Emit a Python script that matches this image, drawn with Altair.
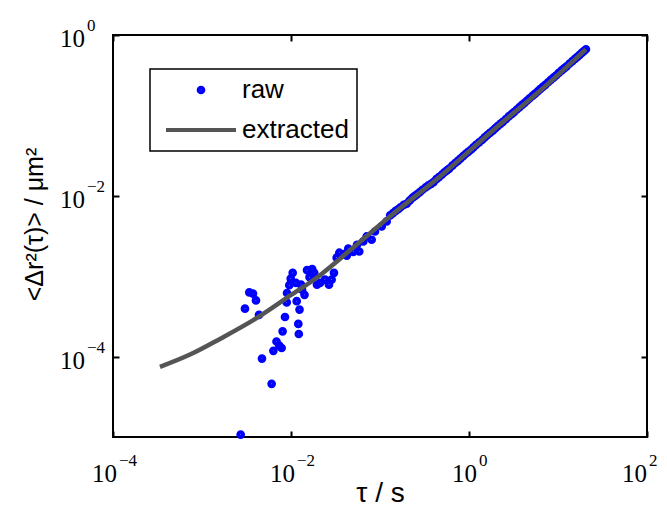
import altair as alt
import pandas as pd

# ---------------- data ----------------
raw_tau = [2.72e-3, 3.04e-3, 3.40e-3, 3.74e-3, 4.04e-3, 4.37e-3, 4.72e-3, 6.06e-3,
           6.34e-3, 6.87e-3, 7.38e-3, 7.85e-3, 8.05e-3, 8.56e-3, 8.95e-3, 9.02e-3,
           9.57e-3, 9.93e-3, 1.045e-2, 1.138e-2, 1.159e-2, 1.208e-2, 1.224e-2, 1.247e-2,
           1.295e-2, 1.33e-2, 1.418e-2, 1.514e-2, 1.615e-2, 1.73e-2, 1.823e-2, 1.958e-2,
           2.12e-2, 2.41e-2, 2.67e-2, 2.86e-2, 3.04e-2, 3.26e-2, 3.49e-2, 3.89e-2,
           4.23e-2, 4.40e-2, 5.01e-2, 5.52e-2, 5.85e-2, 6.49e-2, 7.08e-2, 8.06e-2,
           8.79e-2, 0.1045, 0.1189,
           0.13, 0.14, 0.15, 0.16, 0.17, 0.185, 0.20, 0.215, 0.23, 0.245, 0.26, 0.28,
           0.30, 0.325, 0.35, 0.375, 0.40, 0.43, 0.46, 0.495, 0.53, 0.565, 0.60, 0.65,
           0.70, 0.75, 0.80, 0.86, 0.92, 0.98, 1.05, 1.12, 1.2, 1.3, 1.4, 1.5, 1.6,
           1.72, 1.85, 1.97, 2.1, 2.25, 2.4, 2.6, 2.8, 3.0, 3.2, 3.45, 3.7, 3.95, 4.2,
           4.5, 4.8, 5.15, 5.5, 5.9, 6.3, 6.75, 7.2, 7.75, 8.3, 8.9, 9.5, 10.2, 11.0,
           11.7, 12.5, 13.5, 14.5, 15.5, 16.5, 17.5, 18.5, 19.5, 20.6]
raw_msd = [1.07e-5, 3.95e-4, 6.29e-4, 6.06e-4, 5.0e-4, 3.30e-4, 9.45e-5, 4.58e-5,
           1.18e-4, 1.54e-4, 1.37e-4, 1.28e-4, 2.06e-4, 3.11e-4, 4.72e-4, 6.18e-4,
           7.73e-4, 9.31e-4, 1.10e-3, 8.24e-4, 4.89e-4, 2.55e-4, 1.91e-4, 3.84e-4,
           7.84e-4, 6.79e-4, 5.86e-4, 1.19e-3, 9.72e-4, 1.23e-3, 1.10e-3, 7.84e-4,
           8.24e-4, 9.05e-4, 7.84e-4, 9.05e-4, 1.10e-3, 1.70e-3, 1.96e-3, 1.88e-3,
           1.80e-3, 2.20e-3, 2.01e-3, 2.46e-3, 2.03e-3, 2.71e-3, 3.12e-3, 2.84e-3,
           3.60e-3, 4.16e-3, 4.80e-3,
           0.0057, 0.0061, 0.0065, 0.0068, 0.0072, 0.0077, 0.0080, 0.0087, 0.0094,
           0.0099, 0.0104, 0.0111, 0.0119, 0.0127, 0.0135, 0.0141, 0.0148, 0.0161,
           0.0171, 0.0183, 0.0196, 0.0207, 0.0218, 0.0237, 0.0256, 0.0272, 0.0290,
           0.0312, 0.0333, 0.0352, 0.0374, 0.0401, 0.0430, 0.0462, 0.0494, 0.0532,
           0.0567, 0.0605, 0.0646, 0.0690, 0.0737, 0.0786, 0.0832, 0.0900, 0.0972,
           0.1035, 0.1098, 0.1185, 0.1270, 0.1350, 0.1428, 0.1530, 0.1635, 0.1745,
           0.1850, 0.1985, 0.2120, 0.2260, 0.2400, 0.2585, 0.2765, 0.2950, 0.3135,
           0.3380, 0.3625, 0.3850, 0.4080, 0.4420, 0.4735, 0.5040, 0.5340, 0.5660,
           0.5985, 0.6290, 0.6640]

fit_tau = [3.37e-4, 7.33e-4, 1.59e-3, 3.77e-3, 8.95e-3, 2.12e-2, 4.6e-2, 0.129,
           0.472, 1.72, 7.47, 20.6]
fit_msd = [7.45e-5, 1.06e-4, 1.66e-4, 2.84e-4, 5.36e-4, 1.03e-3, 2.10e-3, 5.53e-3,
           0.0174, 0.0605, 0.240, 0.664]

series_names = ["raw", "extracted"]
series_colors = ["#0000ff", "#555555"]

x_domain = [1e-4, 1e2]
y_domain = [1e-5, 1e0]
x_ticks = [1e-4, 1e-2, 1e0, 1e2]
x_exps = ["\u22124", "\u22122", "0", "2"]
y_ticks = [1e0, 1e-2, 1e-4]
y_exps = ["0", "\u22122", "\u22124"]

x_title = "\u03c4 / s"
y_title = "<\u0394r\u00b2(\u03c4)> / \u03bcm\u00b2"

# ---------------- tables ----------------
raw_df = pd.DataFrame({"tau": raw_tau, "msd": raw_msd, "series": series_names[0]})
fit_df = pd.DataFrame({"tau": fit_tau, "msd": fit_msd, "series": series_names[1]})
xlab_df = pd.DataFrame({"val": x_ticks, "exp": x_exps, "edge": y_domain[0]})
ylab_df = pd.DataFrame({"val": y_ticks, "exp": y_exps, "edge": x_domain[0]})

W, H = 534, 402
SANS = "Liberation Sans"
SERIF = "Liberation Serif"

xscale = alt.Scale(type="log", domain=x_domain)
yscale = alt.Scale(type="log", domain=y_domain)
cscale = alt.Scale(domain=series_names, range=series_colors)
shscale = alt.Scale(domain=series_names, range=["circle", "M-7,0H7"])
szscale = alt.Scale(domain=series_names, range=[22, 100])

tick_common = dict(labels=False, domain=False, grid=False, ticks=True, tickSize=6,
                   tickWidth=2, tickColor="black", offset=-6)

legend = alt.Legend(
    title=None, orient="none", legendX=37, legendY=34,
    fillColor="white", strokeColor="black",
    padding=8, rowPadding=14, symbolOffset=30, labelOffset=28,
    symbolStrokeWidth=4, symbolOpacity=1,
    labelFont=SANS, labelFontSize=26, labelColor="black",
)

points = alt.Chart(raw_df).mark_point(filled=False, strokeWidth=4, opacity=1).encode(
    x=alt.X("tau:Q", scale=xscale,
            axis=alt.Axis(orient="bottom", values=x_ticks, title=x_title,
                          titleFont=SANS, titleFontSize=28, titleFontWeight="normal",
                          titleColor="black", titleBaseline="alphabetic", titleY=70,
                          **tick_common)),
    y=alt.Y("msd:Q", scale=yscale,
            axis=alt.Axis(orient="left", values=y_ticks, title=y_title,
                          titleFont=SANS, titleFontSize=25, titleFontWeight="normal",
                          titleColor="black", titleBaseline="alphabetic",
                          titleX=-77, titleY=189, **tick_common)),
    color=alt.Color("series:N", scale=cscale, legend=legend),
    shape=alt.Shape("series:N", scale=shscale, legend=legend),
    size=alt.Size("series:N", scale=szscale, legend=legend),
)

line = alt.Chart(fit_df).mark_line(strokeWidth=4.5, interpolate="monotone").encode(
    x=alt.X("tau:Q", scale=xscale,
            axis=alt.Axis(orient="top", values=x_ticks, title=None, **tick_common)),
    y=alt.Y("msd:Q", scale=yscale,
            axis=alt.Axis(orient="right", values=y_ticks, title=None, **tick_common)),
    color=alt.Color("series:N", scale=cscale, legend=legend),
)

def xlabels(filt, dx10, dxe):
    base = alt.Chart(xlab_df).transform_filter(filt).encode(
        x=alt.X("val:Q", scale=xscale, axis=None),
        y=alt.Y("edge:Q", scale=yscale, axis=None),
    )
    ten = base.mark_text(text="10", font=SERIF, fontSize=25, align="right",
                         baseline="alphabetic", dx=dx10, dy=45, color="black")
    ex = base.mark_text(font=SERIF, fontSize=17, align="left",
                        baseline="alphabetic", dx=dxe, dy=29, color="black").encode(
        text="exp:N")
    return [ten, ex]

ybase = alt.Chart(ylab_df).encode(
    x=alt.X("edge:Q", scale=xscale, axis=None),
    y=alt.Y("val:Q", scale=yscale, axis=None),
)
yten = ybase.mark_text(text="10", font=SERIF, fontSize=25, align="right",
                       baseline="alphabetic", dx=-28, dy=12, color="black")
yex = ybase.mark_text(font=SERIF, fontSize=17, align="left", baseline="alphabetic",
                      dx=-26, dy=-4, color="black").encode(text="exp:N")

layers = [points, line] \
    + xlabels("length(datum.exp) > 1", 4, 6) \
    + xlabels("datum.exp == '0'", 8, 10) \
    + xlabels("datum.exp == '2'", 0, 2) \
    + [yten, yex]

chart = alt.layer(*layers).resolve_axis(x="independent", y="independent").properties(
    width=W, height=H,
    autosize=alt.AutoSizeParams(type="none"),
    padding={"left": 105, "top": 27, "right": 12, "bottom": 73},
    background="white",
).configure_view(stroke="black", strokeWidth=2).configure_legend(
    strokeWidth=1.5, cornerRadius=0)

chart.save("out.html", embed_options={"renderer": "svg", "actions": False})
